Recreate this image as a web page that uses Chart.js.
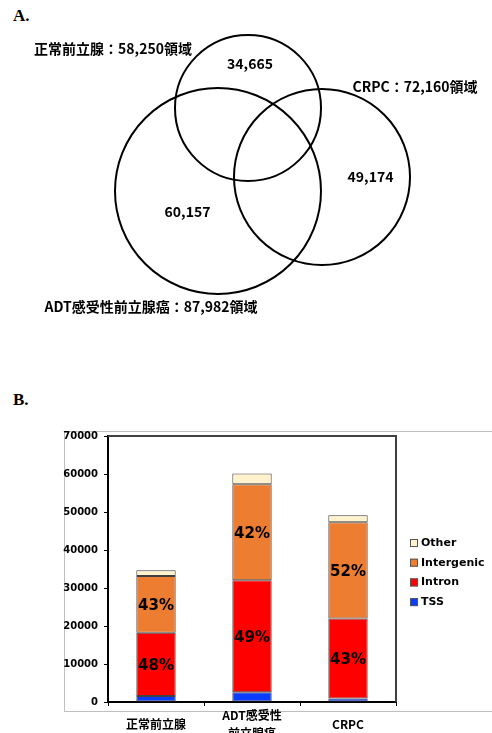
<!DOCTYPE html>
<html><head><meta charset="utf-8">
<script src="https://cdn.jsdelivr.net/npm/chart.js@4"></script>
<style>
html,body{margin:0;padding:0;background:#fff;width:492px;height:733px;overflow:hidden;position:relative}
#vennWrap{position:absolute;left:0;top:0;width:492px;height:340px}
#barWrap{position:absolute;left:0;top:420px;width:492px;height:313px}
.panel{position:absolute;left:13px;font-family:'Liberation Serif',serif;font-weight:bold;font-size:17px;line-height:normal;color:#000}
</style></head>
<body>
<div class="panel" style="top:6px">A.</div>
<div class="panel" style="top:390px">B.</div>
<div id="vennWrap"><canvas id="venn"></canvas></div>
<div id="barWrap"><canvas id="bar"></canvas></div>
<script>
// ---------- Venn data ----------
const vennSets = ['正常前立腺', 'ADT感受性前立腺癌', 'CRPC'];
const vennTotals = [58250, 87982, 72160];
const vennUnique = [34665, 60157, 49174];

// ---------- Bar data ----------
const categories = [['正常前立腺'], ['ADT感受性', '前立腺癌'], ['CRPC']];
const seriesNames = ['TSS', 'Intron', 'Intergenic', 'Other'];
const tssValues = [1580, 2550, 950];
const intronValues = [16640, 29480, 21000];
const intergenicValues = [14910, 25260, 25350];
const otherValues = [1535, 2867, 1874];
const intronPct = ['48%', '49%', '43%'];
const intergenicPct = ['43%', '42%', '52%'];
const yTicksMax = 70000;
const yTickStep = 10000;

// ---------- Venn layout (panel units) ----------
const circleLayout = [{x:248,y:108,r:73},{x:218,y:191,r:103},{x:322,y:177,r:88}];
const uniqueLabelPos = [{x:250,y:63.5},{x:187.5,y:212},{x:370.5,y:177}];
const setLabelPos = [{x:113,y:49},{x:151,y:306.5},{x:415,y:86.5}];

const jpFont = '"Noto Sans CJK JP", "Noto Sans", sans-serif';

const vennText = {
  id: 'vennText',
  afterDatasetsDraw(chart) {
    const ctx = chart.ctx, sx = chart.scales.x, sy = chart.scales.y;
    ctx.save();
    ctx.fillStyle = '#000';
    ctx.textAlign = 'center';
    ctx.textBaseline = 'middle';
    ctx.font = 'bold 14px ' + jpFont;
    vennUnique.forEach((v, i) => {
      const p = uniqueLabelPos[i];
      ctx.fillText(v.toLocaleString('en-US'), sx.getPixelForValue(p.x), sy.getPixelForValue(p.y));
    });
    vennSets.forEach((name, i) => {
      const p = setLabelPos[i];
      ctx.fillText(name + '：' + vennTotals[i].toLocaleString('en-US') + '領域', sx.getPixelForValue(p.x), sy.getPixelForValue(p.y));
    });
    ctx.restore();
  }
};

new Chart(document.getElementById('venn'), {
  type: 'scatter',
  data: {
    labels: vennSets,
    datasets: [{
      data: circleLayout.map(c => ({x: c.x, y: c.y, r: c.r})),
      pointRadius: (c) => {
        if (!c.raw) return 0;
        const s = c.chart.scales.x;
        return s.getPixelForValue(c.raw.r) - s.getPixelForValue(0);
      },
      pointBackgroundColor: 'rgba(0,0,0,0)',
      pointBorderColor: '#000',
      pointBorderWidth: 2,
      pointHoverRadius: 0,
      clip: false
    }]
  },
  options: {
    responsive: true, maintainAspectRatio: false, animation: false, events: [],
    layout: {padding: 0},
    scales: {
      x: {type: 'linear', min: 0, max: 492, display: false},
      y: {type: 'linear', min: 0, max: 340, reverse: true, display: false}
    },
    plugins: {legend: {display: false}, tooltip: {enabled: false}}
  },
  plugins: [vennText]
});

// ---------- Bar chart ----------
const colors = ['#0A3CFF', '#FF0000', '#ED7D31', '#FFF2CC'];

const framePlugin = {
  id: 'frame',
  beforeDraw(chart) {
    const ctx = chart.ctx;
    ctx.save();
    ctx.strokeStyle = '#C0C0C0';
    ctx.lineWidth = 1;
    ctx.strokeRect(64.5, 11.5, 500, 280);
    ctx.restore();
  },
  afterDraw(chart) {
    const ctx = chart.ctx, a = chart.chartArea;
    ctx.save();
    ctx.strokeStyle = '#404040';
    ctx.lineWidth = 2;
    ctx.beginPath();
    ctx.moveTo(a.left, a.top);
    ctx.lineTo(a.right, a.top);
    ctx.lineTo(a.right, a.bottom);
    ctx.stroke();
    // legend (reverse order)
    ctx.font = 'bold 11px "DejaVu Sans", sans-serif';
    ctx.textBaseline = 'middle';
    ctx.textAlign = 'left';
    const ds = chart.data.datasets;
    const x0 = a.right + 14;
    const y0 = a.top + 107;
    for (let k = 0; k < ds.length; k++) {
      const d = ds[ds.length - 1 - k];
      const y = y0 + k * 19.7;
      ctx.fillStyle = d.backgroundColor;
      ctx.fillRect(x0, y - 4, 8, 8);
      ctx.strokeStyle = '#555';
      ctx.lineWidth = 1;
      ctx.strokeRect(x0 + 0.5, y - 3.5, 7, 7);
      ctx.fillStyle = '#000';
      ctx.fillText(d.label, x0 + 11, y);
    }
    ctx.restore();
  }
};

const pctPlugin = {
  id: 'pct',
  afterDatasetsDraw(chart) {
    const ctx = chart.ctx;
    ctx.save();
    ctx.font = 'bold 15px "DejaVu Sans", sans-serif';
    ctx.fillStyle = '#000';
    ctx.textAlign = 'center';
    ctx.textBaseline = 'middle';
    [[1, intronPct], [2, intergenicPct]].forEach(([di, labels]) => {
      chart.getDatasetMeta(di).data.forEach((el, i) => {
        ctx.fillText(labels[i], el.x, (el.y + el.base) / 2 + 2);
      });
    });
    ctx.restore();
  }
};

const seriesValues = [tssValues, intronValues, intergenicValues, otherValues];

new Chart(document.getElementById('bar'), {
  type: 'bar',
  data: {
    labels: categories,
    datasets: seriesNames.map((n, i) => ({
      label: n,
      data: seriesValues[i],
      backgroundColor: colors[i],
      borderColor: '#404040',
      borderWidth: 1,
      borderSkipped: false,
      barPercentage: 0.41,
      categoryPercentage: 1
    }))
  },
  options: {
    responsive: true, maintainAspectRatio: false, animation: false, events: [],
    layout: {padding: {left: 0, top: 16, right: 96, bottom: 0}},
    scales: {
      x: {
        stacked: true,
        afterFit(s) { s.height = 31; },
        grid: {offset: true, drawOnChartArea: false, tickLength: 4, color: '#000', lineWidth: 1},
        border: {display: true, color: '#000', width: 2},
        ticks: {
          color: '#000', padding: 9, crossAlign: 'center', maxRotation: 0, autoSkip: false,
          font: {family: jpFont, size: 12, weight: 'bold', lineHeight: 1.5}
        }
      },
      y: {
        stacked: true, min: 0, max: yTicksMax,
        afterFit(s) { s.width = 108; },
        grid: {drawOnChartArea: false, tickLength: 4, color: '#000', lineWidth: 1},
        border: {display: true, color: '#000', width: 2},
        ticks: {
          stepSize: yTickStep, color: '#000', padding: 6,
          callback: (v) => String(v),
          font: {family: '"DejaVu Sans", sans-serif', size: 10, weight: 'bold'}
        }
      }
    },
    plugins: {legend: {display: false}, tooltip: {enabled: false}}
  },
  plugins: [framePlugin, pctPlugin]
});
</script>
</body></html>
